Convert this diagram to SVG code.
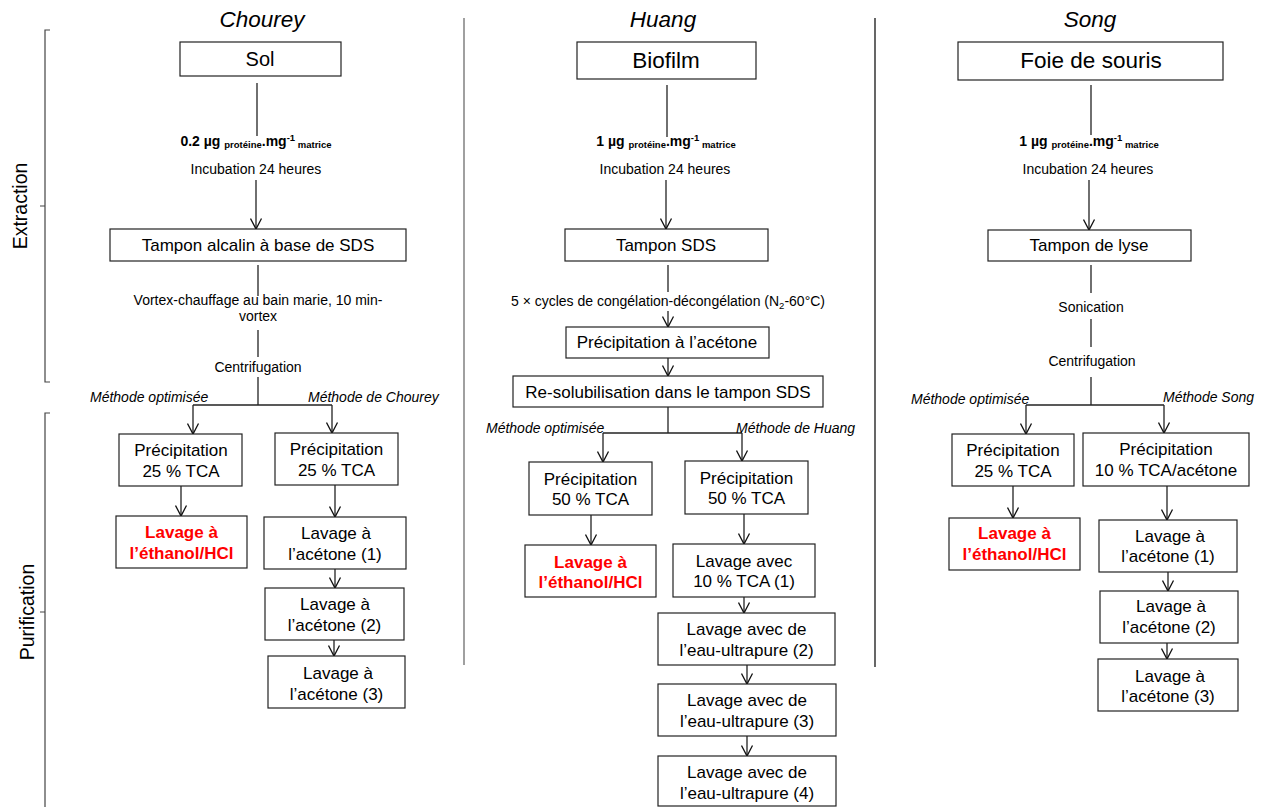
<svg xmlns="http://www.w3.org/2000/svg" width="1266" height="807" viewBox="0 0 1266 807">
<style>
text{font-family:"Liberation Sans",Arial,sans-serif;fill:#000}
.title{font-size:22.5px;font-style:italic;text-anchor:middle}
.big{font-size:22.5px;text-anchor:middle}
.bt{font-size:17px;text-anchor:middle}
.red{font-size:17px;text-anchor:middle;font-weight:bold;fill:#ff0000}
.lbl{font-size:14px;text-anchor:middle}
.meth{font-size:14px;font-style:italic}
.dose{font-size:14px;font-weight:bold;text-anchor:middle}
.sub{font-size:9.5px}
.side{font-size:19.5px;text-anchor:middle}
rect{fill:#fff;stroke:#222;stroke-width:1.2}
.c line,.c path{stroke:#222;stroke-width:1.3;fill:none}
.a{marker-end:url(#arr)}
.br{stroke:#444;stroke-width:1.2;fill:none}
</style>
<defs>
<marker id="arr" viewBox="0 0 13 13" refX="11.5" refY="6.5" markerWidth="13" markerHeight="13" markerUnits="userSpaceOnUse" orient="auto">
<path d="M1,1 L11.5,6.5 L1,12" fill="none" stroke="#111" stroke-width="1.3"/>
</marker>
</defs>
<rect x="0" y="0" width="1266" height="807" style="fill:#fff;stroke:none"/>

<g id="side-labels">
<path class="br" d="M50,30 H45 V382 H50 M40,206 H45"/>
<path class="br" d="M50,413 H45 V807 M40,612 H45"/>
<text class="side" transform="translate(27,206) rotate(-90)">Extraction</text>
<text class="side" transform="translate(34,612) rotate(-90)">Purification</text>
<line x1="464" y1="18" x2="464" y2="665" stroke="#808080" stroke-width="1.5"/>
<line x1="875" y1="18" x2="875" y2="667" stroke="#000" stroke-width="1.2"/>
</g>

<g id="titles">
<text class="title" x="262" y="27">Chourey</text>
<text class="title" x="663" y="27">Huang</text>
<text class="title" x="1090" y="27">Song</text>
</g>

<g id="connectors" class="c">
<!-- Chourey -->
<line x1="257" y1="83" x2="257" y2="136"/>
<line class="a" x1="256" y1="180" x2="256" y2="229"/>
<line x1="258" y1="265" x2="258" y2="296"/>
<line x1="258" y1="330" x2="258" y2="357"/>
<line x1="258" y1="377" x2="258" y2="405"/>
<line x1="193" y1="405" x2="332" y2="405"/>
<line class="a" x1="193" y1="405" x2="193" y2="434"/>
<line class="a" x1="332" y1="405" x2="332" y2="433"/>
<line class="a" x1="181" y1="486" x2="181" y2="516"/>
<line class="a" x1="335" y1="485" x2="335" y2="517"/>
<line class="a" x1="335" y1="569" x2="335" y2="588"/>
<line class="a" x1="334" y1="640" x2="334" y2="656"/>
<!-- Huang -->
<line x1="667" y1="85" x2="667" y2="137"/>
<line class="a" x1="666" y1="180" x2="666" y2="229"/>
<line x1="668" y1="265" x2="668" y2="292"/>
<line class="a" x1="668" y1="311" x2="668" y2="327"/>
<line class="a" x1="668" y1="358" x2="668" y2="376"/>
<line x1="668" y1="407" x2="668" y2="433"/>
<line x1="603" y1="433" x2="742" y2="433"/>
<line class="a" x1="603" y1="433" x2="603" y2="462"/>
<line class="a" x1="742" y1="433" x2="742" y2="461"/>
<line class="a" x1="591" y1="515" x2="591" y2="545"/>
<line class="a" x1="744" y1="514" x2="744" y2="544"/>
<line class="a" x1="744" y1="597" x2="744" y2="613"/>
<line class="a" x1="747" y1="665" x2="747" y2="684"/>
<line class="a" x1="747" y1="736" x2="747" y2="756"/>
<!-- Song -->
<line x1="1091" y1="85" x2="1091" y2="135"/>
<line class="a" x1="1089" y1="180" x2="1089" y2="230"/>
<line x1="1091" y1="265" x2="1091" y2="293"/>
<line x1="1091" y1="319" x2="1091" y2="347"/>
<line x1="1091" y1="377" x2="1091" y2="405"/>
<line x1="1026" y1="405" x2="1164" y2="405"/>
<line class="a" x1="1026" y1="405" x2="1026" y2="434"/>
<line class="a" x1="1164" y1="405" x2="1164" y2="433"/>
<line class="a" x1="1013" y1="486" x2="1013" y2="518"/>
<line class="a" x1="1167" y1="486" x2="1167" y2="520"/>
<line class="a" x1="1168" y1="572" x2="1168" y2="591"/>
<line class="a" x1="1167" y1="643" x2="1167" y2="659"/>
</g>

<g id="connector-labels">
<text class="dose" x="256" y="146">0.2 µg <tspan class="sub" dy="2">protéine</tspan><tspan dy="-2">.mg</tspan><tspan class="sub" dy="-5">-1</tspan><tspan class="sub" dy="7"> matrice</tspan></text>
<text class="lbl" x="256" y="174">Incubation 24 heures</text>
<text class="lbl" x="258" y="305">Vortex-chauffage au bain marie, 10 min-</text>
<text class="lbl" x="258" y="321">vortex</text>
<text class="lbl" x="258" y="372">Centrifugation</text>
<text class="meth" x="90" y="402">Méthode optimisée</text>
<text class="meth" x="308" y="402">Méthode de Chourey</text>

<text class="dose" x="666" y="146">1 µg <tspan class="sub" dy="2">protéine</tspan><tspan dy="-2">.mg</tspan><tspan class="sub" dy="-5">-1</tspan><tspan class="sub" dy="7"> matrice</tspan></text>
<text class="lbl" x="665" y="174">Incubation 24 heures</text>
<text class="lbl" x="668" y="306">5 × cycles de congélation-décongélation (N<tspan class="sub" dy="3">2</tspan><tspan dy="-3">-60°C)</tspan></text>
<text class="meth" x="486" y="433">Méthode optimisée</text>
<text class="meth" x="736" y="433">Méthode de Huang</text>

<text class="dose" x="1089" y="146">1 µg <tspan class="sub" dy="2">protéine</tspan><tspan dy="-2">.mg</tspan><tspan class="sub" dy="-5">-1</tspan><tspan class="sub" dy="7"> matrice</tspan></text>
<text class="lbl" x="1088" y="174">Incubation 24 heures</text>
<text class="lbl" x="1091" y="312">Sonication</text>
<text class="lbl" x="1092" y="366">Centrifugation</text>
<text class="meth" x="911" y="404">Méthode optimisée</text>
<text class="meth" x="1163" y="402">Méthode Song</text>
</g>

<!-- Chourey nodes -->
<g id="sol"><rect x="180" y="42" width="161" height="34"/><text class="big" style="font-size:20px" x="260" y="66">Sol</text></g>
<g id="tampon-alcalin"><rect x="110" y="229" width="296" height="32"/><text class="bt" x="258" y="251">Tampon alcalin à base de SDS</text></g>
<g id="c-precip-opt"><rect x="119" y="434" width="123" height="52"/><text class="bt" x="181" y="456">Précipitation</text><text class="bt" x="181" y="477">25 % TCA</text></g>
<g id="c-precip-ch"><rect x="275" y="433" width="123" height="52"/><text class="bt" x="336.5" y="455">Précipitation</text><text class="bt" x="336.5" y="476">25 % TCA</text></g>
<g id="c-ethanol"><rect x="116" y="516" width="131" height="52"/><text class="red" x="181.5" y="538">Lavage à</text><text class="red" x="181.5" y="559">l’éthanol/HCl</text></g>
<g id="c-acetone1"><rect x="264" y="517" width="142" height="52"/><text class="bt" x="336" y="539">Lavage à</text><text class="bt" x="335" y="560">l’acétone (1)</text></g>
<g id="c-acetone2"><rect x="265" y="588" width="139" height="52"/><text class="bt" x="335" y="610">Lavage à</text><text class="bt" x="334.5" y="631">l’acétone (2)</text></g>
<g id="c-acetone3"><rect x="268" y="656" width="137" height="52"/><text class="bt" x="338" y="679">Lavage à</text><text class="bt" x="336.5" y="700">l’acétone (3)</text></g>

<!-- Huang nodes -->
<g id="biofilm"><rect x="577" y="42" width="179" height="37"/><text class="big" x="666" y="68">Biofilm</text></g>
<g id="tampon-sds"><rect x="565" y="229" width="203" height="32"/><text class="bt" x="666" y="251">Tampon SDS</text></g>
<g id="precip-acetone"><rect x="566" y="327" width="203" height="31"/><text class="bt" x="667" y="348">Précipitation à l’acétone</text></g>
<g id="resolubilisation"><rect x="513" y="376" width="310" height="31"/><text class="bt" x="668" y="398">Re-solubilisation dans le tampon SDS</text></g>
<g id="h-precip-opt"><rect x="529" y="462" width="123" height="53"/><text class="bt" x="590.5" y="485">Précipitation</text><text class="bt" x="590.5" y="505">50 % TCA</text></g>
<g id="h-precip-hu"><rect x="685" y="461" width="123" height="53"/><text class="bt" x="746.5" y="484">Précipitation</text><text class="bt" x="746.5" y="504">50 % TCA</text></g>
<g id="h-ethanol"><rect x="525" y="545" width="131" height="52"/><text class="red" x="590.5" y="568">Lavage à</text><text class="red" x="590.5" y="588">l’éthanol/HCl</text></g>
<g id="h-tca1"><rect x="673" y="544" width="142" height="53"/><text class="bt" x="744" y="567">Lavage avec</text><text class="bt" x="744" y="587">10 % TCA (1)</text></g>
<g id="h-eau2"><rect x="658" y="613" width="177" height="52"/><text class="bt" x="746.5" y="635">Lavage avec de</text><text class="bt" x="746.5" y="656">l’eau-ultrapure (2)</text></g>
<g id="h-eau3"><rect x="658" y="684" width="178" height="52"/><text class="bt" x="747" y="706">Lavage avec de</text><text class="bt" x="747" y="727">l’eau-ultrapure (3)</text></g>
<g id="h-eau4"><rect x="658" y="756" width="178" height="50"/><text class="bt" x="747" y="778">Lavage avec de</text><text class="bt" x="747" y="799">l’eau-ultrapure (4)</text></g>

<!-- Song nodes -->
<g id="foie"><rect x="958" y="42" width="265" height="38"/><text class="big" x="1091" y="68">Foie de souris</text></g>
<g id="tampon-lyse"><rect x="988" y="230" width="203" height="31"/><text class="bt" x="1089" y="251">Tampon de lyse</text></g>
<g id="s-precip-opt"><rect x="952" y="434" width="122" height="52"/><text class="bt" x="1013" y="456">Précipitation</text><text class="bt" x="1013" y="477">25 % TCA</text></g>
<g id="s-precip-song"><rect x="1083" y="433" width="166" height="53"/><text class="bt" x="1166" y="455">Précipitation</text><text class="bt" x="1166" y="476">10 % TCA/acétone</text></g>
<g id="s-ethanol"><rect x="949" y="518" width="131" height="52"/><text class="red" x="1014.5" y="539">Lavage à</text><text class="red" x="1014.5" y="560">l’éthanol/HCl</text></g>
<g id="s-acetone1"><rect x="1099" y="520" width="138" height="52"/><text class="bt" x="1170" y="542">Lavage à</text><text class="bt" x="1168" y="562">l’acétone (1)</text></g>
<g id="s-acetone2"><rect x="1100" y="591" width="138" height="52"/><text class="bt" x="1171" y="612">Lavage à</text><text class="bt" x="1169" y="633">l’acétone (2)</text></g>
<g id="s-acetone3"><rect x="1098" y="659" width="140" height="52"/><text class="bt" x="1170" y="682">Lavage à</text><text class="bt" x="1168" y="702">l’acétone (3)</text></g>
</svg>
